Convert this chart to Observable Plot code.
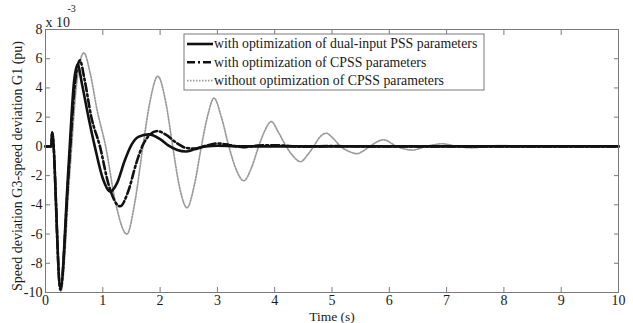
<!DOCTYPE html>
<html>
<head>
<meta charset="utf-8">
<script src="https://cdn.jsdelivr.net/npm/d3@7"></script>
<script src="https://cdn.jsdelivr.net/npm/@observablehq/plot@0.6"></script>
<style>
  html, body { margin: 0; padding: 0; background: #fff; }
  #chart { position: relative; width: 633px; height: 323px; }
</style>
</head>
<body>
<div id="chart"></div>
<script>
// ---- data (units: 1e-3 pu) ----
const seriesNames = [
  "with optimization of dual-input PSS parameters",
  "with optimization of CPSS parameters",
  "without optimization of CPSS parameters"
];
const xTicks = [0, 1, 2, 3, 4, 5, 6, 7, 8, 9, 10];
const yTicks = [-10, -8, -6, -4, -2, 0, 2, 4, 6, 8];

const dualPSS = [
  [0,0],[0.1,0],[0.115,0.95],[0.26,-9.7],[0.4,-1.5],[0.5,4.5],[0.56,5.6],[0.64,4.2],
  [0.75,2.0],[0.86,0],[1.0,-2.2],[1.13,-3.1],[1.25,-2.5],[1.38,-1.0],[1.5,0.1],
  [1.62,0.65],[1.8,0.82],[2.0,0.5],[2.15,0.05],[2.3,-0.25],[2.45,-0.35],[2.6,-0.2],
  [2.8,0],[3.0,0.04],[3.5,0],[10,0]
];
const optCPSS = [
  [0,0],[0.1,0],[0.115,0.95],[0.26,-9.8],[0.4,-2],[0.52,4.5],[0.6,5.9],[0.68,4.6],
  [0.8,2.0],[0.95,0],[1.1,-2.6],[1.3,-4.1],[1.45,-3.0],[1.58,-1.2],[1.7,0.1],
  [1.82,0.8],[1.95,1.05],[2.1,0.8],[2.3,0.2],[2.45,-0.1],[2.6,-0.15],[2.8,0.05],
  [3.0,0.2],[3.2,0.1],[3.45,-0.05],[3.7,0.05],[4.0,0.08],[4.5,-0.02],[5,0.02],[5.5,0],[10,0]
];
const noOptCPSS = [
  [0,0],[0.1,0],[0.115,0.95],[0.27,-9.9],[0.42,-2],[0.55,4.5],[0.67,6.4],[0.78,5.0],
  [0.9,2.5],[1.05,0],[1.22,-3.8],[1.42,-6.0],[1.56,-3.8],[1.7,0],[1.82,3.0],[1.96,4.8],
  [2.1,3.0],[2.22,0],[2.34,-2.8],[2.47,-4.2],[2.6,-2.6],[2.72,0],[2.83,2.1],[2.94,3.3],
  [3.07,2.0],[3.2,0],[3.33,-1.6],[3.46,-2.35],[3.6,-1.4],[3.72,0],[3.83,1.1],[3.94,1.7],
  [4.06,1.0],[4.2,0],[4.33,-0.7],[4.45,-1.05],[4.57,-0.6],[4.68,0],[4.78,0.6],[4.9,0.9],
  [5.02,0.55],[5.15,0],[5.3,-0.35],[5.44,-0.5],[5.55,-0.3],[5.66,0],[5.9,0.45],[6.13,0],
  [6.4,-0.25],[6.65,0],[6.92,0.18],[7.18,0],[7.45,-0.1],[7.7,0],[7.95,0.06],[8.3,0],[10,0]
];

const FONT = "'Liberation Serif', 'Times New Roman', serif";
const INK = "#1a1a1a";
const AXIS = "#7a7a7a";

const styles = [
  {stroke: "#111", strokeWidth: 2.6, dash: null},
  {stroke: "#111", strokeWidth: 2.6, dash: "8,3,2,3"},
  {stroke: "#9a9a9a", strokeWidth: 1.7, dash: "1.5,1.5"}
];
const allSeries = [dualPSS, optCPSS, noOptCPSS];

const fmt = d => String(d);

const plot = Plot.plot({
  width: 633,
  height: 323,
  marginLeft: 45,
  marginRight: 15,
  marginTop: 29,
  marginBottom: 31,
  x: {domain: [0, 10]},
  y: {domain: [-10, 8]},
  style: {fontFamily: FONT, fontSize: "14px", color: INK, background: "#fff"},
  marks: [
    // inward ticks on all four sides
    Plot.axisX(xTicks, {anchor: "bottom", tickSize: 5, dy: -5, tickFormat: () => "", label: null, stroke: AXIS}),
    Plot.axisX(xTicks, {anchor: "top", tickSize: 5, dy: 5, tickFormat: () => "", label: null, stroke: AXIS}),
    Plot.axisY(yTicks, {anchor: "left", tickSize: 5, dx: 5, tickFormat: () => "", label: null, stroke: AXIS}),
    Plot.axisY(yTicks, {anchor: "right", tickSize: 5, dx: -5, tickFormat: () => "", label: null, stroke: AXIS}),
    // tick labels
    Plot.axisX(xTicks, {anchor: "bottom", tickSize: 0, tickPadding: 3, tickFormat: fmt, label: null, fill: INK}),
    Plot.axisY(yTicks, {anchor: "left", tickSize: 0, tickPadding: 3, tickFormat: fmt, label: null, fill: INK}),
    // series
    ...allSeries.map((s, i) => Plot.line(s, {
      x: d => d[0], y: d => d[1], curve: "monotone-x",
      stroke: styles[i].stroke, strokeWidth: styles[i].strokeWidth,
      strokeDasharray: styles[i].dash
    })).reverse(),
    Plot.frame({stroke: AXIS, strokeWidth: 1}),
    // axis titles
    Plot.text(["Time (s)"], {frameAnchor: "bottom", lineAnchor: "middle", dy: 24.5, fontSize: 13.5, fill: INK}),
    Plot.text(["Speed deviation G3-speed deviation G1 (pu)"], {frameAnchor: "left", textAnchor: "middle", lineAnchor: "middle", rotate: -90, dx: -28, dy: 5, fontSize: 14, fill: INK}),
    Plot.text(["x 10"], {frameAnchor: "top-left", textAnchor: "start", lineAnchor: "middle", dx: 0, dy: -7, fontSize: 14, fill: INK}),
    Plot.text(["-3"], {frameAnchor: "top-left", textAnchor: "start", lineAnchor: "middle", dx: 22, dy: -20.5, fontSize: 10, fill: INK})
  ]
});

document.getElementById("chart").appendChild(plot);

// legend box inside the axes (top centre), drawn into the plot's svg
const svg = d3.select(plot);
const lg = svg.append("g").attr("transform", "translate(184,34)")
  .attr("font-family", FONT).attr("font-size", 13.8).attr("fill", INK).attr("text-anchor", "start");
lg.append("rect").attr("x", 0).attr("y", 0).attr("width", 300).attr("height", 56)
  .attr("fill", "#fff").attr("stroke", AXIS).attr("stroke-width", 1);
seriesNames.forEach((name, i) => {
  const cy = 10 + i * 18.3;
  lg.append("line").attr("x1", 3).attr("x2", 29).attr("y1", cy).attr("y2", cy)
    .attr("stroke", styles[i].stroke).attr("stroke-width", styles[i].strokeWidth)
    .attr("stroke-dasharray", styles[i].dash);
  lg.append("text").attr("x", 30).attr("y", cy).attr("dy", "0.32em").attr("text-anchor", "start").text(name);
});
</script>
</body>
</html>
